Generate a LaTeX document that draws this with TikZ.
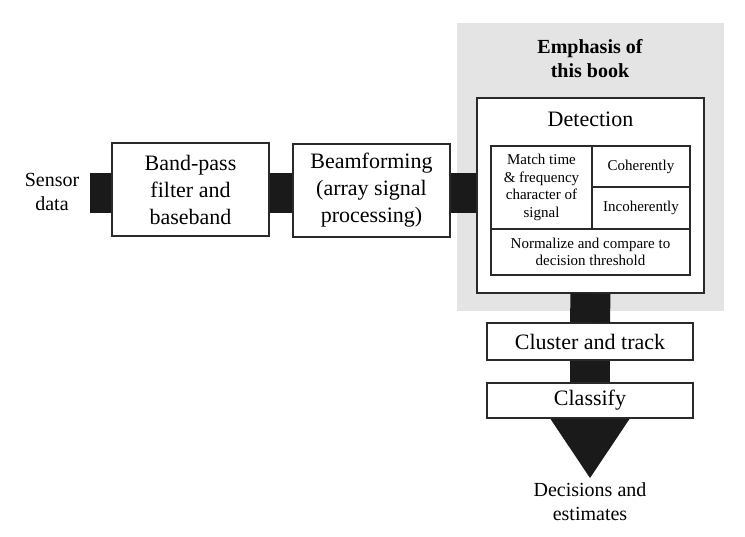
\documentclass[tikz,border=0pt]{standalone}
\usepackage{fontspec}
\setmainfont{Liberation Serif}
\definecolor{emphgray}{HTML}{E4E4E4}
\definecolor{barblack}{HTML}{1A1A1A}
\definecolor{edge}{HTML}{2A2A2A}
\tikzset{
  box/.style={draw=edge, line width=1.1pt, fill=white, inner sep=0pt, align=center},
  big/.style={font=\fontsize{22}{27}\selectfont},
  mid/.style={font=\fontsize{20}{24}\selectfont},
  small/.style={font=\fontsize{15}{17.7}\selectfont},
  bar/.style={draw=barblack, line width=40pt},
  plain/.style={inner sep=0pt, align=center}
}
\begin{document}
\begin{tikzpicture}[x=1pt, y=-1pt]
\useasboundingbox (0,0) rectangle (745,537);
% emphasis background
\node[fill=emphgray, minimum width=267pt, minimum height=288pt, inner sep=0pt] (emph) at (590.5,167) {};
\node[plain, font=\fontsize{20}{24}\selectfont\bfseries] (emphtxt) at (590,59) {Emphasis of\\this book};
% left chain
\node[plain, mid] (sensor) at (52,192) {Sensor\\data};
\coordinate (s0) at (90,193);
\node[box, big, minimum width=157pt, minimum height=93pt] (bp) at (190.5,189.5) {Band-pass\\filter and\\baseband};
\node[box, big, minimum width=157pt, minimum height=93pt] (bf) at (371.5,190.5) {Beamforming\\(array signal\\processing)};
% detection
\node[box, minimum width=227pt, minimum height=195pt] (det) at (590.5,195.5) {};
\node[plain, big] (dettxt) at (590.5,119) {Detection};
\node[box, small, minimum width=101pt, minimum height=83pt] (match) at (541.5,187.5) {Match time\\\& frequency\\character of\\signal};
\node[box, small, minimum width=98pt, minimum height=41pt] (coh) at (641,166.5) {Coherently};
\node[box, small, minimum width=98pt, minimum height=42pt] (incoh) at (641,208) {Incoherently};
\node[box, small, minimum width=199pt, minimum height=46pt] (norm) at (590.5,252) {Normalize and compare to\\decision threshold};
% lower chain
\node[box, big, minimum width=206pt, minimum height=37pt] (clus) at (590,341.5) {Cluster and track};
\node[box, big, minimum width=206pt, minimum height=35pt] (cls) at (590,400.5) {Classify};
\node[plain, mid] (dec) at (590,502) {Decisions and\\estimates};
\coordinate (tip) at (590,478);
\coordinate (headtop) at (590,419);
% bars
\draw[bar] (s0) -- (s0 -| bp.west);
\draw[bar] (s0 -| bp.east) -- (s0 -| bf.west);
\draw[bar] (s0 -| bf.east) -- (s0 -| det.west);
\draw[bar] (det.south) -- (clus.north);
\draw[bar] (clus.south) -- (cls.north);
\draw[bar] (cls.south) -- (headtop);
\fill[barblack] ([xshift=-39.5pt]headtop) -- ([xshift=39.5pt]headtop) -- (tip) -- cycle;
\end{tikzpicture}
\end{document}
